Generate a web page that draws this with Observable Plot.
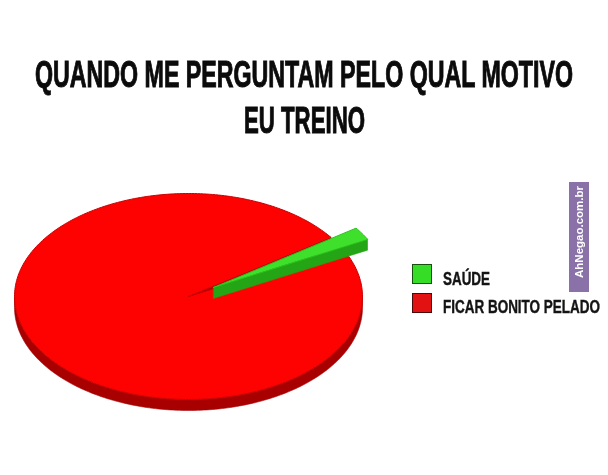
<!DOCTYPE html>
<html>
<head>
<meta charset="utf-8">
<script src="https://cdn.jsdelivr.net/npm/d3@7"></script>
<script src="https://cdn.jsdelivr.net/npm/@observablehq/plot@0.6"></script>
<style>
  html, body { margin: 0; padding: 0; background: #fff; }
  #page { position: relative; width: 608px; height: 475px; overflow: hidden; background: #fff; }
  .title { position: absolute; left: 0; width: 608px; height: 40px; font-family: "Liberation Sans Narrow", "Liberation Sans", sans-serif; font-weight: bold; font-size: 36px; line-height: 1; color: #0b0b0b; -webkit-text-stroke: 1px #0b0b0b; white-space: nowrap; }
  .title span { position: absolute; top: 0; left: 0; display: inline-block; }
  .lg span { display: inline-block; }
  .lg { position: absolute; left: 443px; font-family: "Liberation Sans Narrow", "Liberation Sans", sans-serif; font-weight: bold; font-size: 18px; line-height: 1; color: #141414; -webkit-text-stroke: 0.4px #141414; white-space: nowrap; }
  .sw { position: absolute; left: 412px; width: 18px; height: 18px; border: 1.5px solid; }
  #chart { position: absolute; left: 0; top: 160px; filter: blur(0.4px); }
  #wm { position: absolute; left: 569px; top: 182px; width: 20px; height: 110px; background: #8a72a8; }
  #wm span { position: absolute; left: 0; top: 4px; width: 20px; height: 92px; writing-mode: vertical-rl; transform: rotate(180deg); font-family: "Liberation Sans", Arial, sans-serif; font-weight: bold; font-size: 11.5px; line-height: 20px; color: #fff; text-align: center; }
</style>
</head>
<body>
<div id="page">
  <div class="title" id="t1" style="top:57px"><span>QUANDO ME PERGUNTAM PELO QUAL MOTIVO</span></div>
  <div class="title" id="t2" style="top:103px"><span>EU TREINO</span></div>
  <div id="chart"></div>
  <div id="legend"></div>
  <div id="wm"><span>AhNegao.com.br</span></div>
</div>
<script>
// ---- data ----
const categories = ["SAÚDE", "FICAR BONITO PELADO"];
const values = [2, 98];

// ---- styles ----
const topColors = ["#3fe02c", "#fe0202"];
const sideColors = ["#23a516", "#a80000"];
const edgeColors = ["#2cc21c", "#c80000"];
const swatchFill = ["#36dd26", "#e31212"];
const swatchBorder = ["#16500e", "#4a0a0a"];
const explode = [0.17, 0];

// ---- layout ----
const W = 400, H = 290;
const CX = 188, CY = 136, RX = 174, RY = 103, DEPTH = 11;
const D = DEPTH / RY;
const START = (90 - 35.1) * Math.PI / 180;
const deg = Math.PI / 180;

const pie = d3.pie().sort(null).value(d => d).startAngle(START).endAngle(START + 2 * Math.PI)(values);

function arcPts(a0, a1, ox, oy, dy) {
  const n = Math.max(2, Math.ceil(Math.abs(a1 - a0) / deg));
  const pts = [];
  for (let k = 0; k <= n; k++) {
    const a = a0 + (a1 - a0) * k / n;
    pts.push([ox + Math.sin(a), oy + Math.cos(a) - dy]);
  }
  return pts;
}

const layers = [];
pie.forEach((p, i) => {
  const mid = (p.startAngle + p.endAngle) / 2;
  const ox = explode[i] * Math.sin(mid), oy = explode[i] * Math.cos(mid);
  const sides = [];
  let sid = 0;
  for (let k = -1; k <= 2; k++) {
    const lo = Math.max(p.startAngle, Math.PI / 2 + k * 2 * Math.PI);
    const hi = Math.min(p.endAngle, 3 * Math.PI / 2 + k * 2 * Math.PI);
    if (lo < hi) {
      const poly = arcPts(lo, hi, ox, oy, 0).concat(arcPts(hi, lo, ox, oy, D));
      poly.forEach(([x, y]) => sides.push({x, y, id: "w" + sid, color: sideColors[i]}));
      sid++;
    }
  }
  [[p.startAngle, Math.sin(p.startAngle) < 0], [p.endAngle, Math.sin(p.endAngle) > 0]].forEach(([a, vis]) => {
    if (!vis) return;
    const rx = ox + Math.sin(a), ry = oy + Math.cos(a);
    [[ox, oy], [rx, ry], [rx, ry - D], [ox, oy - D]].forEach(([x, y]) =>
      sides.push({x, y, id: "c" + sid, color: sideColors[i]}));
    sid++;
  });
  const tops = [[ox, oy]].concat(arcPts(p.startAngle, p.endAngle, ox, oy, 0))
    .map(([x, y]) => ({x, y, id: "top", color: topColors[i], edge: edgeColors[i]}));
  layers.push({explode: explode[i], marks: [
    Plot.line(sides, {x: "x", y: "y", z: "id", fill: "color", stroke: "color", strokeWidth: 0.6, curve: "linear-closed"}),
    Plot.line(tops, {x: "x", y: "y", z: "id", fill: "color", stroke: "edge", strokeWidth: 1, curve: "linear-closed"})
  ]});
});
// draw non-exploded slices first, exploded slices on top
layers.sort((a, b) => a.explode - b.explode);
const marks = layers.flatMap(l => l.marks);

const chart = Plot.plot({
  width: W, height: H, margin: 0,
  x: {domain: [-CX / RX, (W - CX) / RX], axis: null},
  y: {domain: [-(H - CY) / RY, CY / RY], axis: null},
  color: {type: "identity"},
  marks
});
document.getElementById("chart").appendChild(chart);

// ---- legend ----
const legend = document.getElementById("legend");
const swTops = [264, 293];
const lgTops = [269.8, 297.8];
const lgWidths = [47, 157];
categories.forEach((c, i) => {
  const sw = document.createElement("div");
  sw.className = "sw";
  sw.style.top = swTops[i] + "px";
  sw.style.background = swatchFill[i];
  sw.style.borderColor = swatchBorder[i];
  legend.appendChild(sw);
  const t = document.createElement("div");
  t.className = "lg";
  t.style.top = lgTops[i] + "px";
  const s = document.createElement("span");
  s.textContent = c;
  t.appendChild(s);
  legend.appendChild(t);
  const w = s.getBoundingClientRect().width;
  s.style.transformOrigin = "0 0";
  s.style.transform = `scaleX(${lgWidths[i] / w})`;
});

// ---- title fit ----
[["t1", 538], ["t2", 121]].forEach(([id, target]) => {
  const s = document.querySelector("#" + id + " span");
  const w = s.getBoundingClientRect().width;
  s.style.left = ((608 - target) / 2) + "px";
  s.style.transformOrigin = "0 0";
  s.style.transform = `scaleX(${target / w})`;
});
</script>
</body>
</html>
